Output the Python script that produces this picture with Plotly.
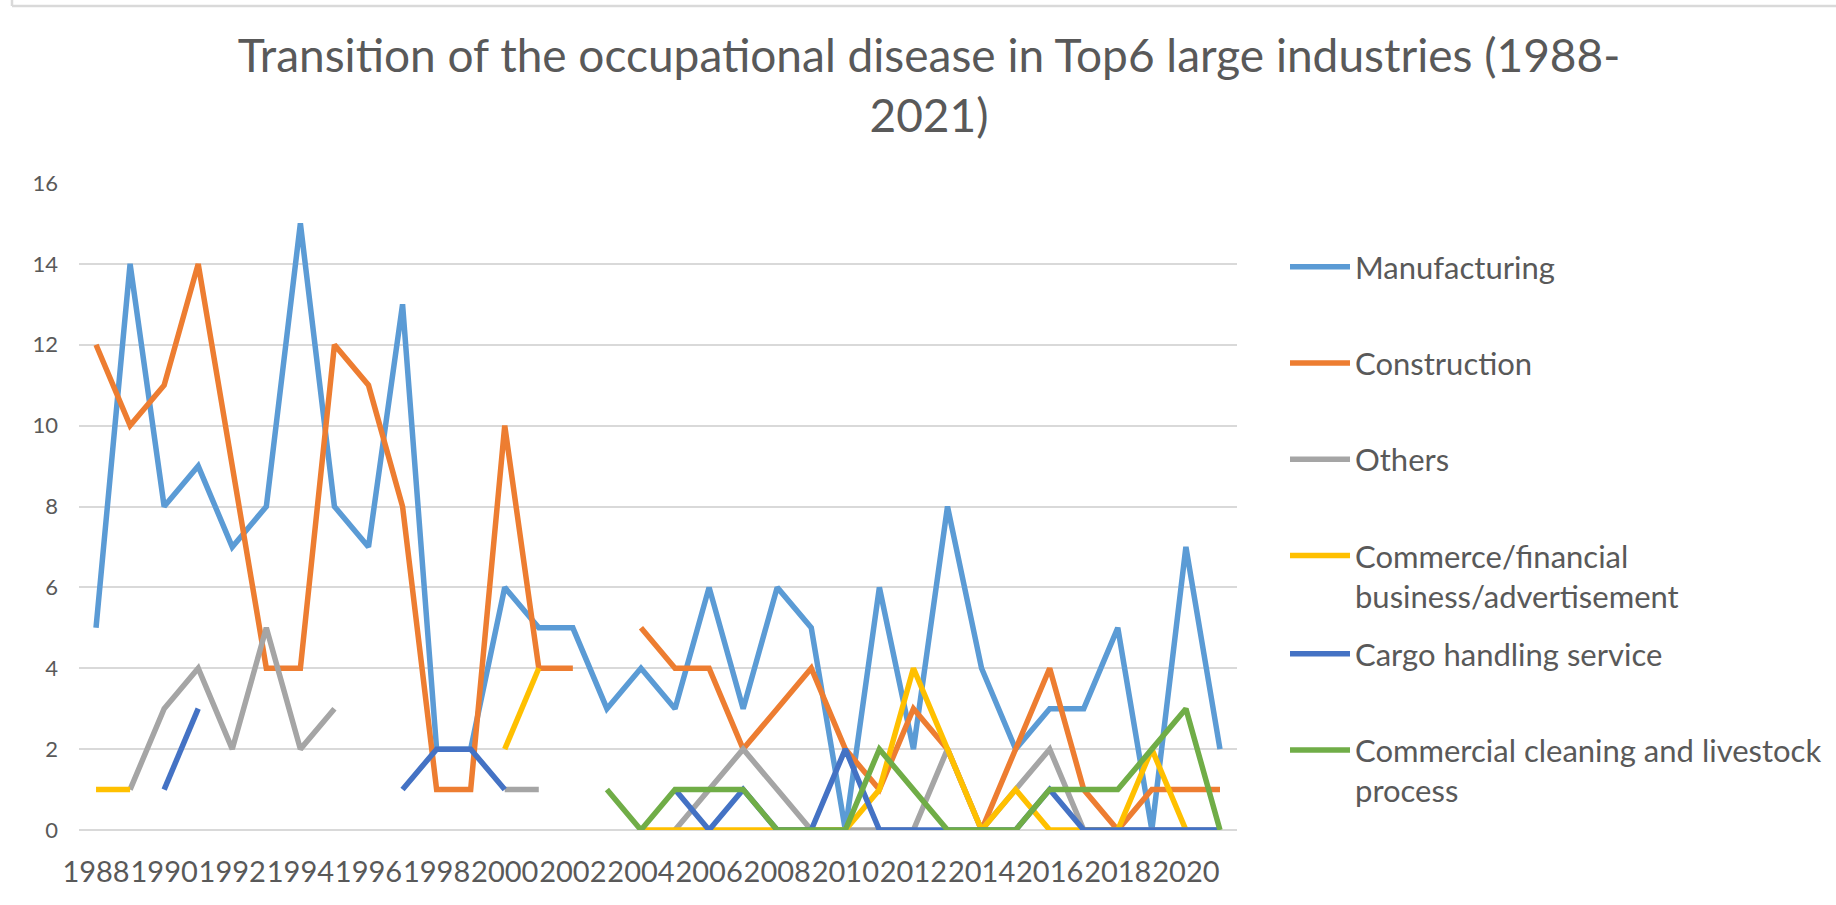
import plotly.graph_objects as go

years = [str(y) for y in range(1988, 2022)]
tick_years = years[::2]

manufacturing = [5, 14, 8, 9, 7, 8, 15, 8, 7, 13, 2, 2, 6, 5, 5, 3, 4, 3, 6, 3, 6, 5, 0, 6, 2, 8, 4, 2, 3, 3, 5, 0, 7, 2]
construction = [12, 10, 11, 14, 9, 4, 4, 12, 11, 8, 1, 1, 10, 4, 4, None, 5, 4, 4, 2, 3, 4, 2, 1, 3, 2, 0, 2, 4, 1, 0, 1, 1, 1]
others = [None, 1, 3, 4, 2, 5, 2, 3, None, None, None, None, 1, 1, None, None, None, 0, 1, 2, 1, 0, 0, 0, 0, 2, 0, 1, 2, 0, 0, 0, 0, 0]
commerce = [1, 1, None, None, None, None, None, None, None, None, None, None, 2, 4, None, None, 0, 0, 0, 0, 0, 0, 0, 1, 4, 2, 0, 1, 0, 0, 0, 2, 0, None]
cargo = [None, None, 1, 3, None, None, None, None, None, 1, 2, 2, 1, None, None, None, None, 1, 0, 1, 0, 0, 2, 0, 0, 0, 0, 0, 1, 0, 0, 0, 0, 0]
cleaning = [None] * 15 + [1, 0, 1, 1, 1, 0, 0, 0, 2, 1, 0, 0, 0, 1, 1, 1, 2, 3, 0]

series = [
    ("Manufacturing", manufacturing, "#5B9BD5", "legend"),
    ("Construction", construction, "#ED7D31", "legend"),
    ("Others", others, "#A5A5A5", "legend"),
    ("Commerce/financial<br>business/advertisement", commerce, "#FFC000", "legend"),
    ("Cargo handling service", cargo, "#4472C4", "legend2"),
    ("Commercial cleaning and livestock<br>process", cleaning, "#70AD47", "legend2"),
]

FONT = "Lato"
TXT = "#595959"
GRID = "#D9D9D9"

fig = go.Figure()
for i, (name, vals, color, lg) in enumerate(series):
    fig.add_trace(go.Scatter(
        x=years, y=vals, name=name, mode="lines",
        line=dict(color=color, width=5.5),
        connectgaps=False, legendgroup=f"g{i}", legend=lg,
    ))

W, H = 1836, 905
L, R, T, B = 79, 1237, 183, 830
pw, ph = R - L, B - T

def px(x):
    return (x - L) / pw

def py(y):
    return (B - y) / ph

legend_common = dict(
    xanchor="left", yanchor="top", bgcolor="rgba(0,0,0,0)",
    font=dict(family=FONT, size=31, color=TXT),
    itemwidth=60, tracegroupgap=53, valign="top", traceorder="grouped",
)

fig.update_layout(
    width=W, height=H,
    margin=dict(l=L, r=W - R, t=T, b=H - B, autoexpand=False),
    paper_bgcolor="white", plot_bgcolor="white",
    title=dict(
        text="Transition of the occupational disease in Top6 large industries (1988-<br>2021)",
        font=dict(family=FONT, size=46, color=TXT),
        x=929 / W, xref="container", xanchor="center",
        y=1 - 72 / H, yref="container", yanchor="top",
    ),
    xaxis=dict(
        type="category", range=[-0.5, 33.5], tickmode="array",
        tickvals=tick_years, ticktext=tick_years, tickangle=0,
        showgrid=False, zeroline=False, showline=False, ticks="",
        tickfont=dict(family=FONT, size=29, color=TXT), ticklabelstandoff=22,
    ),
    yaxis=dict(
        range=[0, 16], dtick=2, tick0=0, showgrid=True, gridcolor=GRID, gridwidth=2,
        zeroline=True, zerolinecolor=GRID, zerolinewidth=2, showline=False, ticks="",
        tickfont=dict(family=FONT, size=22, color=TXT), ticklabelstandoff=20,
    ),
    legend=dict(x=px(1285), y=py(240), **legend_common),
    legend2=dict(x=px(1285), y=py(627), **legend_common),
    showlegend=True,
    shapes=[
        dict(type="line", xref="paper", yref="paper", x0=px(12), x1=px(12), y0=py(-50), y1=py(6),
             line=dict(color=GRID, width=2.5)),
        dict(type="line", xref="paper", yref="paper", x0=px(12), x1=px(1900), y0=py(6), y1=py(6),
             line=dict(color=GRID, width=2.5)),
    ],
)

fig.write_html(
    "out.html",
    config={"displayModeBar": False},
    post_script="document.body.style.margin='0';document.body.style.overflow='hidden';",
)
